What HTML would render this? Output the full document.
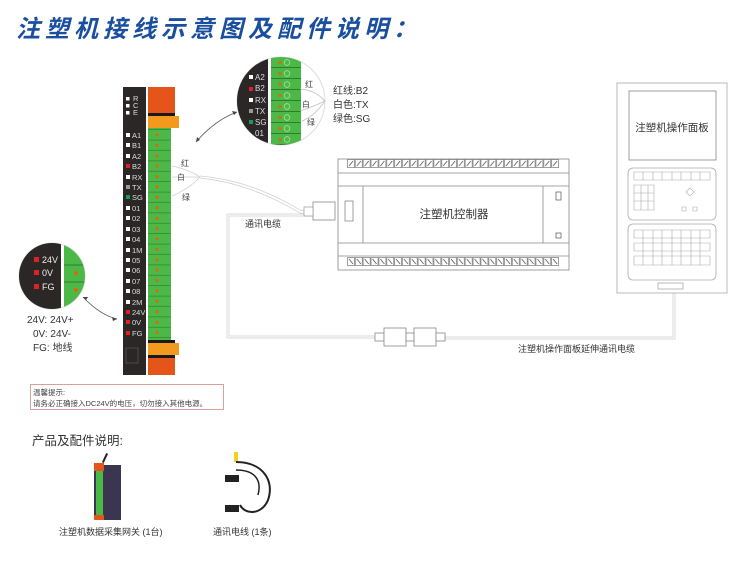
<!DOCTYPE html>
<html><head><meta charset="utf-8"><style>
body{margin:0;background:#fff;width:750px;height:564px;overflow:hidden;font-family:"Liberation Sans","Noto Sans CJK SC",sans-serif}
</style></head><body>
<svg width="750" height="564" viewBox="0 0 750 564" xmlns="http://www.w3.org/2000/svg" font-family="Liberation Sans, Noto Sans CJK SC, sans-serif">
<defs>
<pattern id="term" x="148" y="130" width="23" height="10.4" patternUnits="userSpaceOnUse">
<rect width="23" height="10.4" fill="#4cb848"/><line x1="0" y1="10.2" x2="23" y2="10.2" stroke="#2f7d2c" stroke-width="0.8"/><circle cx="9" cy="5" r="1.6" fill="#d66a10"/>
</pattern>
<pattern id="ctop" x="347" y="159" width="7.85" height="10" patternUnits="userSpaceOnUse">
<rect x="0.5" y="0.5" width="7" height="8" fill="#fff" stroke="#777" stroke-width="0.7"/><line x1="2" y1="7" x2="6" y2="2" stroke="#555" stroke-width="0.8"/>
</pattern>
<pattern id="cbot" x="347" y="257" width="7.85" height="10" patternUnits="userSpaceOnUse">
<rect x="0.5" y="0.5" width="7" height="8" fill="#fff" stroke="#777" stroke-width="0.7"/><line x1="2" y1="2" x2="6" y2="7" stroke="#555" stroke-width="0.8"/>
</pattern>
<pattern id="iterm" x="271" y="57" width="30" height="11" patternUnits="userSpaceOnUse">
<rect width="30" height="11" fill="#4cb848"/><line x1="0" y1="10.5" x2="30" y2="10.5" stroke="#2f7d2c"/><circle cx="9" cy="5.5" r="1.6" fill="#d66a10"/><circle cx="16" cy="5.5" r="2.8" fill="none" stroke="#a8e0a0" stroke-width="0.8"/>
</pattern>
<clipPath id="c1"><circle cx="281" cy="101" r="44"/></clipPath>
<clipPath id="c2"><circle cx="52" cy="276" r="33"/></clipPath>
</defs>

<text x="16" y="37" font-size="24" font-weight="bold" font-style="italic" fill="#1a4f9f" letter-spacing="5">注塑机接线示意图及配件说明：</text>

<!-- main strip -->
<rect x="123" y="87" width="23" height="288" fill="#2a2726"/>
<rect x="148" y="87" width="27" height="26" fill="#e4541b"/>
<rect x="148" y="113" width="27" height="3" fill="#1a1a1a"/>
<rect x="148" y="116" width="31" height="12" fill="#f39a1e"/>
<rect x="148" y="128" width="23" height="213" fill="url(#term)"/>
<rect x="148" y="340" width="27" height="3" fill="#1a1a1a"/>
<rect x="148" y="343" width="31" height="12" fill="#f39a1e"/>
<rect x="148" y="355" width="27" height="3" fill="#1a1a1a"/>
<rect x="148" y="358" width="27" height="17" fill="#e4541b"/>
<g font-size="7.5" fill="#ddd">
<rect x="126" y="97" width="3.5" height="3.5" fill="#fff"/><text x="133" y="101">R</text>
<rect x="126" y="104" width="3.5" height="3.5" fill="#fff"/><text x="133" y="108">C</text>
<rect x="126" y="111" width="3.5" height="3.5" fill="#fff"/><text x="133" y="115">E</text>
</g>
<g font-size="7.5" fill="#ddd">
<rect x="126" y="133" width="4" height="4" fill="#fff"/><text x="132" y="138">A1</text>
<rect x="126" y="143" width="4" height="4" fill="#fff"/><text x="132" y="148">B1</text>
<rect x="126" y="154" width="4" height="4" fill="#fff"/><text x="132" y="159">A2</text>
<rect x="126" y="164" width="4" height="4" fill="#d22"/><text x="132" y="169">B2</text>
<rect x="126" y="175" width="4" height="4" fill="#fff"/><text x="132" y="180">RX</text>
<rect x="126" y="185" width="4" height="4" fill="#999"/><text x="132" y="190">TX</text>
<rect x="126" y="195" width="4" height="4" fill="#1a9a5a"/><text x="132" y="200">SG</text>
<rect x="126" y="206" width="4" height="4" fill="#fff"/><text x="132" y="211">01</text>
<rect x="126" y="216" width="4" height="4" fill="#fff"/><text x="132" y="221">02</text>
<rect x="126" y="227" width="4" height="4" fill="#fff"/><text x="132" y="232">03</text>
<rect x="126" y="237" width="4" height="4" fill="#fff"/><text x="132" y="242">04</text>
<rect x="126" y="248" width="4" height="4" fill="#fff"/><text x="132" y="253">1M</text>
<rect x="126" y="258" width="4" height="4" fill="#fff"/><text x="132" y="263">05</text>
<rect x="126" y="268" width="4" height="4" fill="#fff"/><text x="132" y="273">06</text>
<rect x="126" y="279" width="4" height="4" fill="#fff"/><text x="132" y="284">07</text>
<rect x="126" y="289" width="4" height="4" fill="#fff"/><text x="132" y="294">08</text>
<rect x="126" y="300" width="4" height="4" fill="#fff"/><text x="132" y="305">2M</text>
<rect x="126" y="310" width="4" height="4" fill="#d22"/><text x="132" y="315">24V</text>
<rect x="126" y="320" width="4" height="4" fill="#d22"/><text x="132" y="325">0V</text>
<rect x="126" y="331" width="4" height="4" fill="#d22"/><text x="132" y="336">FG</text>
</g>
<rect x="126" y="348" width="12" height="15" fill="none" stroke="#555" stroke-width="0.8"/>

<!-- wires -->
<g fill="none" stroke="#ccc" stroke-width="0.7">
<path d="M172 166 Q190 170 200 177"/><path d="M172 177 Q190 177 200 177"/><path d="M172 196 Q190 188 200 177"/>
<path d="M200 176 Q250 180 300 210 L312 213"/><path d="M200 178 Q250 183 300 213 L312 215"/>
<path d="M312 214 L227 214 L227 338 L375 338"/><path d="M312 216 L229 216 L229 336 L375 336"/>
<path d="M440 337 L673 337 L673 293"/><path d="M440 339 L675 339 L675 293"/>
</g>
<g font-size="8" fill="#444"><text x="181" y="166">红</text><text x="177" y="180">白</text><text x="182" y="200">绿</text></g>
<rect x="313" y="202" width="22" height="18" fill="#fff" stroke="#888" stroke-width="0.8"/>
<rect x="304" y="207" width="9" height="9" fill="#fff" stroke="#888" stroke-width="0.6"/>
<text x="245" y="227" font-size="9" fill="#333">通讯电缆</text>

<!-- arrows -->
<g fill="none" stroke="#555" stroke-width="0.8">
<path d="M196 142 Q215 120 237 112"/><path d="M83 297 Q100 315 117 319"/>
</g>
<path d="M237 112 l-5 -1 l2 4z M196 142 l1 -5 l3 3z M83 297 l5 0 l-2 3z M117 319 l-5 -2 l1 4z" fill="#444"/>

<!-- top inset -->
<circle cx="281" cy="101" r="44" fill="#fff" stroke="#ddd"/>
<g clip-path="url(#c1)">
<rect x="230" y="50" width="38" height="100" fill="#2a2726"/>
<rect x="271" y="50" width="30" height="100" fill="url(#iterm)"/>
<g font-size="8" fill="#ddd">
<rect x="249" y="75" width="4" height="4" fill="#fff"/><text x="255" y="80">A2</text>
<rect x="249" y="87" width="4" height="4" fill="#d22"/><text x="255" y="91">B2</text>
<rect x="249" y="98" width="4" height="4" fill="#fff"/><text x="255" y="103">RX</text>
<rect x="249" y="109" width="4" height="4" fill="#999"/><text x="255" y="114">TX</text>
<rect x="249" y="120" width="4" height="4" fill="#1a9a5a"/><text x="255" y="125">SG</text>
<text x="255" y="136">01</text>
</g>
<g fill="none" stroke="#bbb" stroke-width="0.7"><path d="M300 89 Q315 90 325 101"/><path d="M300 111 Q315 106 325 101"/><path d="M300 122 Q315 116 325 101"/></g>
<g font-size="8" fill="#444"><text x="305" y="87">红</text><text x="302" y="107">白</text><text x="307" y="125">绿</text></g>
</g>
<g font-size="10" fill="#333"><text x="333" y="94">红线:B2</text><text x="333" y="108">白色:TX</text><text x="333" y="122">绿色:SG</text></g>

<!-- bottom-left inset -->
<circle cx="52" cy="276" r="33" fill="#fff" stroke="#ddd"/>
<g clip-path="url(#c2)">
<rect x="15" y="240" width="46" height="75" fill="#2a2726"/>
<rect x="64" y="240" width="30" height="75" fill="#4cb848"/>
<line x1="64" y1="265" x2="94" y2="265" stroke="#2f7d2c"/><line x1="64" y1="282" x2="94" y2="282" stroke="#2f7d2c"/>
<circle cx="76" cy="273" r="2" fill="#d66a10"/><circle cx="76" cy="290" r="2" fill="#d66a10"/>
<g font-size="9" fill="#eee">
<rect x="34" y="257" width="5" height="5" fill="#d22"/><text x="42" y="263">24V</text>
<rect x="34" y="270" width="5" height="5" fill="#d22"/><text x="42" y="276">0V</text>
<rect x="34" y="284" width="5" height="5" fill="#d22"/><text x="42" y="290">FG</text>
</g>
</g>
<g font-size="10" fill="#333"><text x="27" y="323">24V: 24V+</text><text x="33" y="337">0V: 24V-</text><text x="33" y="351">FG: 地线</text></g>

<!-- controller -->
<g fill="#fff" stroke="#888" stroke-width="0.8">
<rect x="338" y="159" width="231" height="111"/>
<line x1="338" y1="173" x2="569" y2="173"/><line x1="338" y1="186" x2="569" y2="186"/>
<line x1="338" y1="243" x2="569" y2="243"/><line x1="338" y1="256" x2="569" y2="256"/>
<line x1="363" y1="186" x2="363" y2="243"/><line x1="543" y1="186" x2="543" y2="243"/>
</g>
<rect x="347" y="159" width="212" height="10" fill="url(#ctop)"/>
<rect x="347" y="257" width="212" height="10" fill="url(#cbot)"/>
<rect x="345" y="201" width="8" height="20" fill="#fff" stroke="#777" stroke-width="0.7"/>
<rect x="556" y="192" width="5" height="8" fill="#fff" stroke="#555" stroke-width="0.7"/>
<rect x="556" y="233" width="5" height="5" fill="#fff" stroke="#555" stroke-width="0.7"/>
<text x="454" y="218" font-size="11.5" fill="#333" text-anchor="middle">注塑机控制器</text>

<!-- panel -->
<g fill="#fff" stroke="#aaa" stroke-width="0.8">
<rect x="617" y="83" width="110" height="210"/>
<rect x="629" y="91" width="87" height="69" stroke="#888"/>
<rect x="628" y="168" width="88" height="52" rx="5"/>
<rect x="628" y="224" width="88" height="56" rx="5"/>
<rect x="658" y="283" width="25" height="6"/>
</g>
<text x="672" y="131" font-size="10.5" fill="#333" text-anchor="middle">注塑机操作面板</text>
<g fill="none" stroke="#aaa" stroke-width="0.6">
<path d="M634 172h76v8h-76z M634 185h20v25h-20z M641 185v25 M648 185v25 M634 193h20 M634 201h20"/>
<path d="M682 207h4v4h-4z M693 207h4v4h-4z M690 188l4 4l-4 4l-4-4z"/>
<path d="M634 230h76v8h-76z M634 243h76v8h-76z M634 256h76v9h-76z"/>
<path d="M643 230v35 M653 230v35 M662 230v35 M672 230v35 M681 230v35 M691 230v35 M700 230v35 M643 172v8 M653 172v8 M662 172v8 M672 172v8 M681 172v8 M691 172v8 M700 172v8"/>
</g>

<!-- extension connectors -->
<g fill="#fff" stroke="#888" stroke-width="0.8">
<rect x="375" y="333" width="9" height="8"/><rect x="384" y="328" width="22" height="18"/>
<rect x="406" y="333" width="8" height="8"/><rect x="414" y="328" width="22" height="18"/>
<rect x="436" y="333" width="9" height="8"/>
</g>
<text x="518" y="352" font-size="9" fill="#333">注塑机操作面板延伸通讯电缆</text>

<!-- warning -->
<rect x="30.5" y="384.5" width="193" height="25" fill="#fff" stroke="#d9a0a0"/>
<text x="33" y="395" font-size="7.5" fill="#444">温馨提示:</text>
<text x="33" y="406" font-size="7.5" fill="#444">请务必正确接入DC24V的电压，切勿接入其他电源。</text>

<text x="32" y="445" font-size="12.5" fill="#333">产品及配件说明:</text>
<rect x="104" y="453" width="2" height="10" fill="#222" transform="rotate(25 105 458)"/>
<rect x="94" y="465" width="27" height="55" fill="#3a3550"/>
<rect x="94" y="463" width="10" height="8" fill="#e4541b"/>
<rect x="96" y="471" width="7" height="44" fill="#4cb848"/>
<rect x="94" y="515" width="10" height="5" fill="#e4541b"/>
<rect x="234" y="452" width="4" height="10" fill="#f0d020"/>
<path d="M236 462 C262 462 275 480 268 500 C262 515 245 515 240 505" fill="none" stroke="#222" stroke-width="2"/>
<path d="M236 470 C255 470 262 480 258 495" fill="none" stroke="#222" stroke-width="1.5"/>
<rect x="225" y="475" width="14" height="7" fill="#222"/><rect x="225" y="505" width="14" height="7" fill="#222"/>
<text x="59" y="535" font-size="9" fill="#333">注塑机数据采集网关 (1台)</text>
<text x="213" y="535" font-size="9" fill="#333">通讯电线 (1条)</text>
</svg>
</body></html>
